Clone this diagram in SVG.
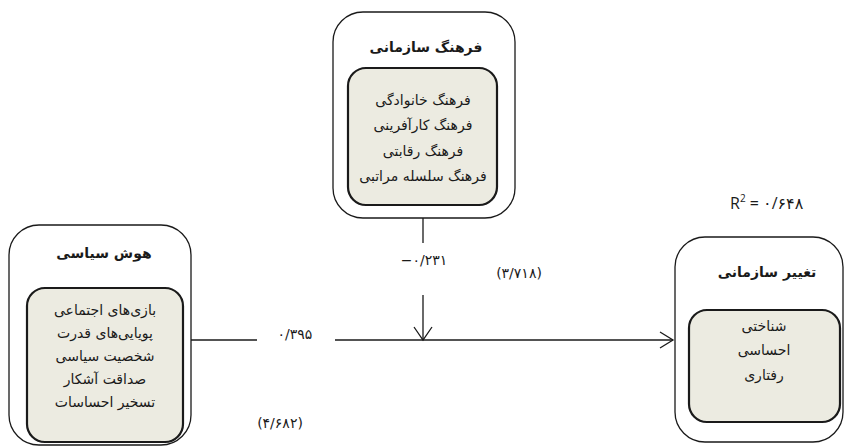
<svg xmlns="http://www.w3.org/2000/svg" width="845" height="446" viewBox="0 0 845 446">
<style>
.outer{fill:#ffffff;stroke:#1a1a1a;stroke-width:1.3}
.inner{fill:#ecebe1;stroke:#1a1a1a;stroke-width:2.2}
.t{font-family:"DejaVu Sans",sans-serif;font-size:14px;fill:#1a1a1a;text-anchor:middle}
.b{font-weight:bold;font-size:14px}
.n{font-family:"DejaVu Sans",sans-serif;font-size:14px;fill:#1a1a1a;text-anchor:middle;direction:ltr}
.ln{stroke:#1a1a1a;stroke-width:1.3;fill:none}
</style>
<rect width="845" height="446" fill="#ffffff"/>
<g id="culture">
<rect class="outer" x="333" y="12" width="182" height="206" rx="30"/>
<rect class="inner" x="348" y="68" width="149" height="137" rx="18"/>
<text class="t b" x="426" y="52" direction="rtl">فرهنگ سازمانی</text>
<text class="t" x="423" y="105" direction="rtl">فرهنگ خانوادگی</text>
<text class="t" x="423" y="130" direction="rtl">فرهنگ کارآفرینی</text>
<text class="t" x="423" y="156" direction="rtl">فرهنگ رقابتی</text>
<text class="t" x="423" y="181" direction="rtl">فرهنگ سلسله مراتبی</text>
</g>
<g id="intelligence">
<rect class="outer" x="9" y="225" width="182" height="220" rx="30"/>
<rect class="inner" x="27" y="288" width="156" height="154" rx="18"/>
<text class="t b" x="104" y="258" direction="rtl">هوش سیاسی</text>
<text class="t" x="105" y="315" direction="rtl">بازی‌های اجتماعی</text>
<text class="t" x="105" y="338" direction="rtl">پویایی‌های قدرت</text>
<text class="t" x="105" y="361" direction="rtl">شخصیت سیاسی</text>
<text class="t" x="105" y="384" direction="rtl">صداقت آشکار</text>
<text class="t" x="105" y="407" direction="rtl">تسخیر احساسات</text>
</g>
<g id="change">
<rect class="outer" x="675" y="237" width="168" height="205" rx="30"/>
<rect class="inner" x="689" y="310" width="151" height="112" rx="18"/>
<text class="t b" x="767" y="277" direction="rtl">تغییر سازمانی</text>
<text class="t" x="764" y="331" direction="rtl">شناختی</text>
<text class="t" x="764" y="355" direction="rtl">احساسی</text>
<text class="t" x="764" y="380" direction="rtl">رفتاری</text>
</g>
<g id="connectors">
<line class="ln" x1="191" y1="340" x2="257" y2="340"/>
<line class="ln" x1="335" y1="340" x2="673" y2="340"/>
<polyline class="ln" points="660,332 673,340 660,348"/>
<line class="ln" x1="423" y1="218" x2="423" y2="243"/>
<line class="ln" x1="423" y1="295" x2="423" y2="340"/>
<polyline class="ln" points="414,327 423,340 432,327"/>
</g>
<g id="labels">
<text class="n" x="424" y="265">−۰/۲۳۱</text>
<text class="n" x="519" y="278">(۳/۷۱۸)</text>
<text class="n" x="295" y="339">۰/۳۹۵</text>
<text class="n" x="280" y="428">(۴/۶۸۲)</text>
<text x="730" y="209" style="font-family:'Open Sans','DejaVu Sans',sans-serif;font-size:16px;fill:#1a1a1a">R<tspan dy="-7" font-size="10">2</tspan><tspan dy="7"> = ۰/۶۴۸</tspan></text>
</g>
</svg>
